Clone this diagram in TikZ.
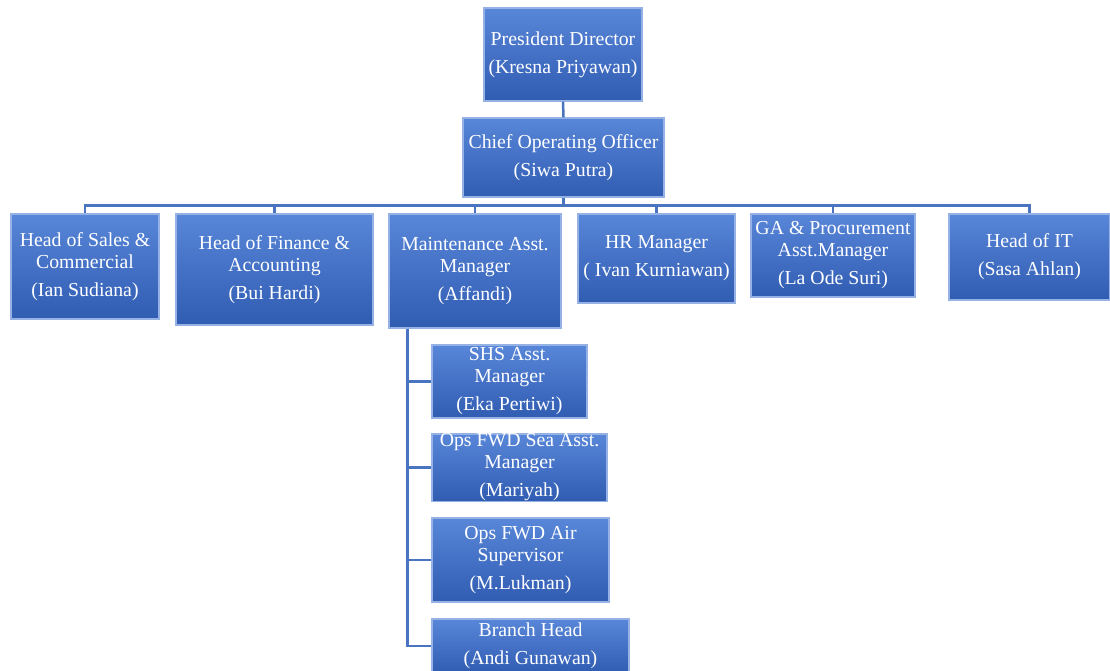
\documentclass[tikz,border=0pt]{standalone}
\usepackage{fontspec}
\setmainfont{Liberation Serif}
\usetikzlibrary{calc}
\definecolor{boxtop}{RGB}{88,134,216}
\definecolor{boxbot}{RGB}{48,92,178}
\definecolor{boxedge}{RGB}{150,178,228}
\definecolor{linkblue}{RGB}{74,116,192}
\tikzstyle{box}=[rectangle,top color=boxtop,bottom color=boxbot,draw=boxedge,line width=1.4pt,inner sep=0pt,anchor=center,align=center,text=white,font=\fontsize{19.8}{22}\selectfont]
\tikzstyle{link}=[draw=linkblue,line width=2.5pt]
\begin{document}
\begin{tikzpicture}[x=1pt,y=-1pt]
	\useasboundingbox (0,0) rectangle (1110,670);

	\node[box, minimum width=158pt, minimum height=93pt](pres) at (563,54.5){President Director\\[6pt](Kresna Priyawan)};
	\node[box, minimum width=201pt, minimum height=79pt](coo) at (563.5,157.5){Chief Operating Officer\\[6pt](Siwa Putra)};

	\node[box, minimum width=148pt, minimum height=105pt](sales) at (85,266.5){Head of Sales \&\\Commercial\\[6pt](Ian Sudiana)};
	\node[box, minimum width=197pt, minimum height=111pt](finance) at (274.5,269.5){Head of Finance \&\\Accounting\\[6pt](Bui Hardi)};
	\node[box, minimum width=172pt, minimum height=114pt](maint) at (475,271){Maintenance Asst.\\Manager\\[6pt](Affandi)};
	\node[box, minimum width=157pt, minimum height=89pt](hr) at (656.5,258.5){HR Manager\\[6pt]( Ivan Kurniawan)};
	\node[box, minimum width=164pt, minimum height=83pt](ga) at (833,255.5){GA \& Procurement\\Asst.Manager\\[6pt](La Ode Suri)};
	\node[box, minimum width=161pt, minimum height=86pt](it) at (1029.5,257){Head of IT\\[6pt](Sasa Ahlan)};

	\node[box, minimum width=155pt, minimum height=73pt](shs) at (509.5,381.5){SHS Asst.\\Manager\\[6pt](Eka Pertiwi)};
	\node[box, minimum width=175pt, minimum height=67pt](sea) at (519.5,467.5){Ops FWD Sea Asst.\\Manager\\[6pt](Mariyah)};
	\node[box, minimum width=177pt, minimum height=84pt](air) at (520.5,560){Ops FWD Air\\Supervisor\\[6pt](M.Lukman)};
	\node[box, minimum width=197pt, minimum height=54pt](branch) at (530.5,646){Branch Head\\[6pt](Andi Gunawan)};

	\draw[link] (pres.south) -- (coo.north);
	\foreach \n in {sales,finance,maint,hr,ga,it}
		\draw[link] (coo.south) -- ++(0,8) -| (\n.north);

	\coordinate (trunk) at ($(maint.south west)+(19,0)$);
	\foreach \n in {shs,sea,air,branch}
		\draw[link] (trunk) |- (\n.west);

\end{tikzpicture}
\end{document}
